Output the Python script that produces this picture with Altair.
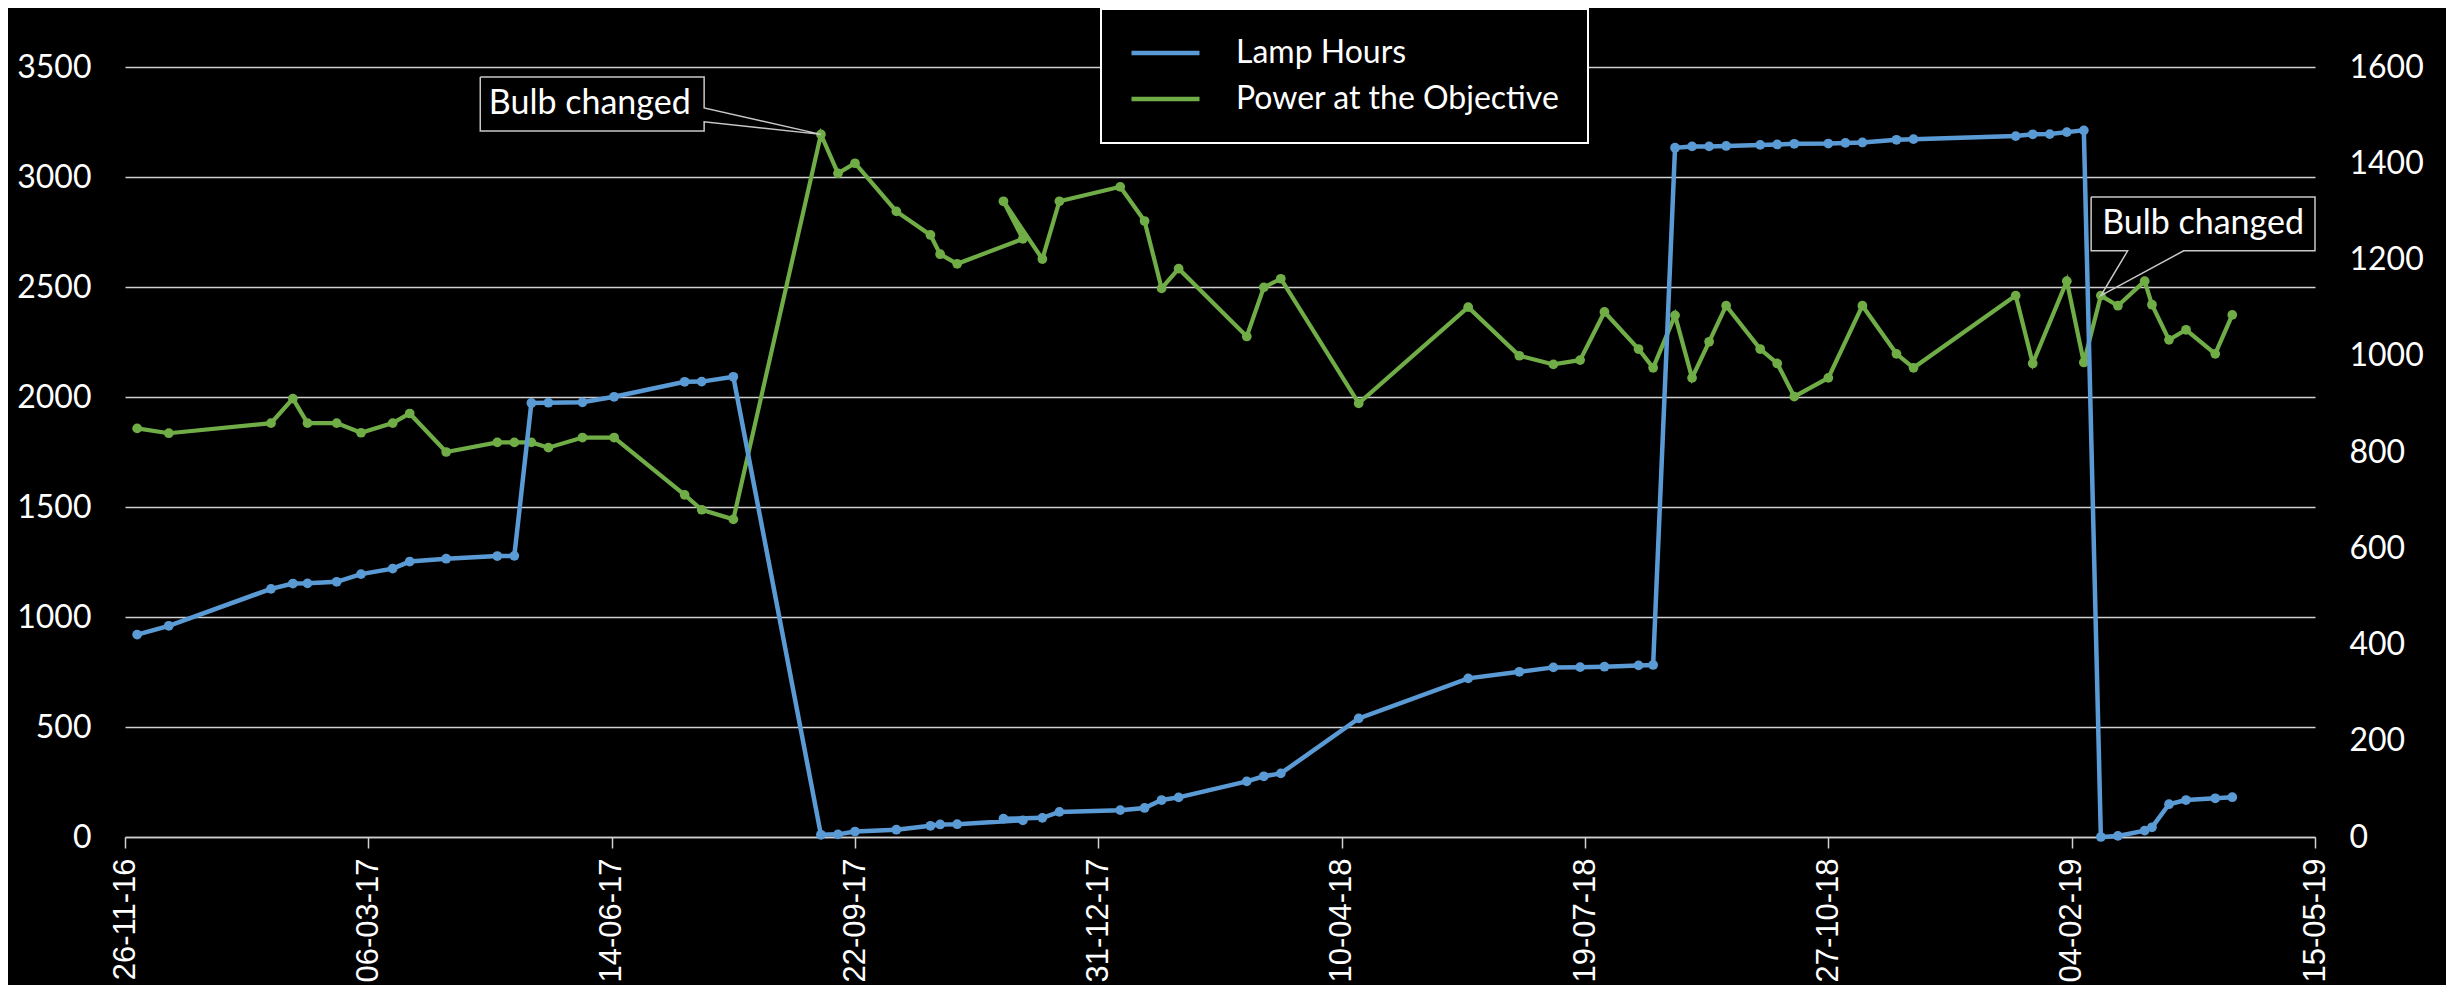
import altair as alt
import pandas as pd

# ---------------- data ----------------
lamp_dates = [
    "2016-12-01", "2016-12-14", "2017-01-25", "2017-02-03", "2017-02-09", "2017-02-21",
    "2017-03-03", "2017-03-16", "2017-03-23", "2017-04-07", "2017-04-28", "2017-05-05",
    "2017-05-12", "2017-05-19", "2017-06-02", "2017-06-15", "2017-07-14", "2017-07-21",
    "2017-08-03", "2017-09-08", "2017-09-15", "2017-09-22", "2017-10-09", "2017-10-23",
    "2017-10-27", "2017-11-03", "2017-11-30", "2017-11-22", "2017-12-08", "2017-12-15",
    "2018-01-09", "2018-01-19", "2018-01-26", "2018-02-02", "2018-03-02", "2018-03-09",
    "2018-03-16", "2018-04-17", "2018-06-01", "2018-06-22", "2018-07-06", "2018-07-17",
    "2018-07-27", "2018-08-10", "2018-08-16", "2018-08-25", "2018-09-01", "2018-09-08",
    "2018-09-15", "2018-09-29", "2018-10-06", "2018-10-13", "2018-10-27", "2018-11-03",
    "2018-11-10", "2018-11-24", "2018-12-01", "2019-01-12", "2019-01-19", "2019-01-26",
    "2019-02-02", "2019-02-09", "2019-02-16", "2019-02-23", "2019-03-06", "2019-03-09",
    "2019-03-16", "2019-03-23", "2019-04-04", "2019-04-11",
]
lamp_hours = [
    920, 960, 1128, 1152, 1153, 1160,
    1195, 1220, 1252, 1265, 1277, 1278,
    1973, 1974, 1976, 2001, 2069, 2070,
    2092, 10, 12, 25, 33, 51,
    57, 58, 76, 83, 87, 114,
    122, 132, 168, 180, 253, 276,
    289, 539, 721, 751, 771, 772,
    774, 780, 782, 3133, 3139, 3139,
    3141, 3146, 3148, 3151, 3152, 3155,
    3157, 3169, 3172, 3186, 3194, 3195,
    3204, 3212, 0, 5, 29, 44,
    149, 168, 176, 181,
]

power_dates = [
    "2016-12-01", "2016-12-14", "2017-01-25", "2017-02-03", "2017-02-09", "2017-02-21",
    "2017-03-03", "2017-03-16", "2017-03-23", "2017-04-07", "2017-04-28", "2017-05-05",
    "2017-05-12", "2017-05-19", "2017-06-02", "2017-06-15", "2017-07-14", "2017-07-21",
    "2017-08-03", "2017-09-08", "2017-09-15", "2017-09-22", "2017-10-09", "2017-10-23",
    "2017-10-27", "2017-11-03", "2017-11-30", "2017-11-22", "2017-12-08", "2017-12-15",
    "2018-01-09", "2018-01-19", "2018-01-26", "2018-02-02", "2018-03-02", "2018-03-09",
    "2018-03-16", "2018-04-17", "2018-06-01", "2018-06-22", "2018-07-06", "2018-07-17",
    "2018-07-27", "2018-08-10", "2018-08-16", "2018-08-25", "2018-09-01", "2018-09-08",
    "2018-09-15", "2018-09-29", "2018-10-06", "2018-10-13", "2018-10-27", "2018-11-10",
    "2018-11-24", "2018-12-01", "2019-01-12", "2019-01-19", "2019-02-02", "2019-02-09",
    "2019-02-16", "2019-02-23", "2019-03-06", "2019-03-09", "2019-03-16", "2019-03-23",
    "2019-04-04", "2019-04-11",
]
power_values = [
    849, 839, 860, 911, 860, 860,
    840, 860, 880, 800, 820, 820,
    820, 809, 830, 830, 711, 680,
    660, 1460, 1379, 1400, 1300, 1251,
    1211, 1191, 1243, 1321, 1201, 1321,
    1351, 1280, 1140, 1181, 1040, 1142,
    1160, 901, 1101, 1000, 982, 991,
    1091, 1014, 975, 1084, 954, 1029,
    1104, 1014, 984, 915, 954, 1104,
    1004, 975, 1125, 984, 1155, 986,
    1125, 1104, 1155, 1106, 1033, 1054,
    1004, 1085,
]

tick_dates = ["2016-11-26", "2017-03-06", "2017-06-14", "2017-09-22", "2017-12-31",
              "2018-04-10", "2018-07-19", "2018-10-27", "2019-02-04", "2019-05-15"]
left_ticks = [0, 500, 1000, 1500, 2000, 2500, 3000, 3500]
right_ticks = [0, 200, 400, 600, 800, 1000, 1200, 1400, 1600]

series_names = ["Lamp Hours", "Power at the Objective"]
series_colors = ["#5B9BD5", "#70AD47"]

# callouts (outline path incl. wedge, in date / right-axis units)
callout1_dates = ["2017-04-21", "2017-07-22", "2017-07-22", "2017-09-08",
                  "2017-07-22", "2017-07-22", "2017-04-21", "2017-04-21"]
callout1_values = [1579, 1579, 1515, 1460, 1486, 1467, 1467, 1579]
callout2_dates = ["2019-02-12", "2019-05-15", "2019-05-15", "2019-03-22",
                  "2019-02-16", "2019-02-27", "2019-02-12", "2019-02-12"]
callout2_values = [1330, 1330, 1218, 1218, 1125, 1218, 1218, 1330]
callout_text = ["Bulb changed", "Bulb changed"]
callout_text_dates = ["2017-06-05", "2019-03-30"]
callout_text_values = [1523, 1274]


def dt(s):
    y, m, d = s.split("-")
    return alt.DateTime(year=int(y), month=int(m), date=int(d), utc=True)


lamp_df = pd.DataFrame({"date": lamp_dates, "value": lamp_hours,
                        "idx": range(len(lamp_dates)), "series": series_names[0]})
power_df = pd.DataFrame({"date": power_dates, "value": power_values,
                         "idx": range(len(power_dates)), "series": series_names[1]})
call_df = pd.DataFrame({
    "date": callout1_dates + callout2_dates,
    "value": callout1_values + callout2_values,
    "idx": list(range(len(callout1_dates))) + list(range(len(callout2_dates))),
    "box": ["a"] * len(callout1_dates) + ["b"] * len(callout2_dates),
})
text_df = pd.DataFrame({"date": callout_text_dates, "value": callout_text_values,
                        "label": callout_text})

x_scale = alt.Scale(type="utc", domain=[dt(tick_dates[0]), dt(tick_dates[-1])], nice=False)
x_axis = alt.Axis(values=[dt(s) for s in tick_dates],
                  labelExpr="utcFormat(datum.value, '%d-%m-%y')",
                  labelAngle=270, labelFont="Liberation Sans", labelFontSize=31,
                  labelPadding=10, labelColor="white", ticks=True, tickSize=11,
                  tickColor="#d0d0d0", tickWidth=1.5, domain=True, domainColor="#d0d0d0",
                  domainWidth=1.5, grid=False, title=None, labelOverlap=False)
X = alt.X("date:T", scale=x_scale, axis=x_axis)

color_enc = alt.Color("series:N",
                      scale=alt.Scale(domain=series_names, range=series_colors),
                      legend=alt.Legend(title=None, orient="none", legendX=976, legendY=-58,
                                        symbolType="stroke", symbolSize=4624,
                                        symbolStrokeWidth=4.5, labelFont="Lato",
                                        labelFontSize=32, labelColor="white",
                                        labelOffset=34, rowPadding=14, padding=28,
                                        clipHeight=32, fillColor="black",
                                        strokeColor="white", labelLimit=600))

left_scale = alt.Scale(domain=[0, 3500], nice=False)
right_scale = alt.Scale(domain=[0, 1600], nice=False)

left_axis = alt.Axis(orient="left", values=left_ticks, format="d", title=None, grid=True,
                     gridColor="#d0d0d0", gridWidth=1.5, labelPadding=34)
right_axis = alt.Axis(orient="right", values=right_ticks, format="d", title=None, grid=False,
                      labelPadding=34)

# green group (secondary axis)
g_line = alt.Chart(power_df).mark_line(strokeWidth=4.2).encode(
    x=X, y=alt.Y("value:Q", scale=right_scale, axis=right_axis),
    color=color_enc, order=alt.Order("idx:Q"))
g_pts = alt.Chart(power_df).mark_circle(size=95, opacity=1, color=series_colors[1]).encode(
    x=X, y=alt.Y("value:Q", scale=right_scale, axis=right_axis))
callouts = alt.Chart(call_df).mark_line(strokeWidth=1.5, color="#c8c8c8").encode(
    x=X, y=alt.Y("value:Q", scale=right_scale, axis=right_axis),
    detail="box:N", order=alt.Order("idx:Q"))
texts = alt.Chart(text_df).mark_text(font="Lato", fontSize=34, color="white",
                                     align="center", baseline="middle").encode(
    x=X, y=alt.Y("value:Q", scale=right_scale, axis=right_axis), text="label:N")
green = alt.layer(g_line, g_pts, callouts, texts)

# blue group (primary axis)
b_line = alt.Chart(lamp_df).mark_line(strokeWidth=4.5).encode(
    x=X, y=alt.Y("value:Q", scale=left_scale, axis=left_axis),
    color=color_enc, order=alt.Order("idx:Q"))
b_pts = alt.Chart(lamp_df).mark_circle(size=95, opacity=1, color=series_colors[0]).encode(
    x=X, y=alt.Y("value:Q", scale=left_scale, axis=left_axis))
blue = alt.layer(b_line, b_pts)

chart = alt.layer(green, blue).resolve_scale(y="independent").properties(
    width=2190, height=770,
    autosize=alt.AutoSizeParams(type="none"),
    padding={"left": 117, "top": 59, "right": 131, "bottom": 148},
    background="black",
).configure_view(stroke=None).configure_axis(
    labelColor="white", labelFont="Lato", labelFontSize=32, domain=False, ticks=False,
).configure_legend(strokeWidth=2)

chart.save("out.html", embed_options={"renderer": "svg", "actions": False})
